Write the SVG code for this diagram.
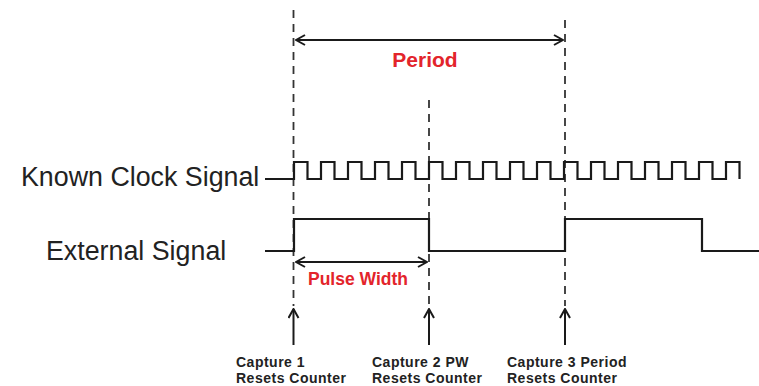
<svg xmlns="http://www.w3.org/2000/svg" width="759" height="386" viewBox="0 0 759 386">
<defs>
<style>
.lbl{font-family:"Liberation Sans",Arial,sans-serif;fill:#222;font-size:26.8px}
.red{font-family:"Liberation Sans",Arial,sans-serif;fill:#e3242b;font-weight:bold;text-anchor:middle}
.cap{font-family:"Liberation Sans",Arial,sans-serif;fill:#222;font-size:14px;font-weight:bold;letter-spacing:0.5px}
.dash{stroke:#333;stroke-width:1.8;stroke-dasharray:8 6;fill:none}
.wave{stroke:#1a1a1a;stroke-width:2.2;fill:none}
.arr{stroke:#1a1a1a;stroke-width:2;fill:none}
</style>
<marker id="ah" viewBox="0 0 12 12" refX="11" refY="6" markerWidth="12" markerHeight="12" markerUnits="userSpaceOnUse" orient="auto-start-reverse">
<path d="M2,1 L11,6 L2,11" fill="none" stroke="#1a1a1a" stroke-width="2"/>
</marker>
</defs>
<rect width="759" height="386" fill="#fff"/>
<g id="guides">
<line class="dash" x1="293.5" y1="10" x2="293.5" y2="306"/>
<line class="dash" x1="429" y1="100" x2="429" y2="306"/>
<line class="dash" x1="565" y1="20" x2="565" y2="306"/>
</g>
<g id="clock">
<text class="lbl" x="21" y="186">Known Clock Signal</text>
<path class="wave" d="M265,179 H294 V162 h13.5 V179 h13.5 V162 h13.5 V179 h13.5 V162 h13.5 V179 h13.5 V162 h13.5 V179 h13.5 V162 h13.5 V179 h13.5 V162 h13.5 V179 h13.5 V162 h13.5 V179 h13.5 V162 h13.5 V179 h13.5 V162 h13.5 V179 h13.5 V162 h13.5 V179 h13.5 V162 h13.5 V179 h13.5 V162 h13.5 V179 h13.5 V162 h13.5 V179 h13.5 V162 h13.5 V179 h13.5 V162 h13.5 V179 h13.5 V162 h13.5 V179 h13.5 V162 h13.5 V179"/>
</g>
<g id="external">
<text class="lbl" x="46" y="260">External Signal</text>
<path class="wave" stroke-width="2.5" d="M265,251 H294 V219 H429 V251 H565 V219 H702 V251 H759"/>
</g>
<g id="connectors">
<line class="arr" x1="296" y1="40" x2="563" y2="40" marker-start="url(#ah)" marker-end="url(#ah)"/>
<line class="arr" x1="296" y1="262" x2="427" y2="262" marker-start="url(#ah)" marker-end="url(#ah)"/>
<line class="arr" x1="293.5" y1="345" x2="293.5" y2="309" marker-end="url(#ah)"/>
<line class="arr" x1="429" y1="345" x2="429" y2="309" marker-end="url(#ah)"/>
<line class="arr" x1="565" y1="345" x2="565" y2="309" marker-end="url(#ah)"/>
</g>
<g id="period">
<text class="red" x="425" y="67" font-size="21">Period</text>
</g>
<g id="pulsewidth">
<text class="red" x="358" y="285" font-size="17.5">Pulse Width</text>
</g>
<g id="capture1">
<text class="cap" x="236" y="367">Capture 1</text>
<text class="cap" x="236" y="383">Resets Counter</text>
</g>
<g id="capture2">
<text class="cap" x="372" y="367">Capture 2 PW</text>
<text class="cap" x="372" y="383">Resets Counter</text>
</g>
<g id="capture3">
<text class="cap" x="507" y="367">Capture 3 Period</text>
<text class="cap" x="507" y="383">Resets Counter</text>
</g>
</svg>
